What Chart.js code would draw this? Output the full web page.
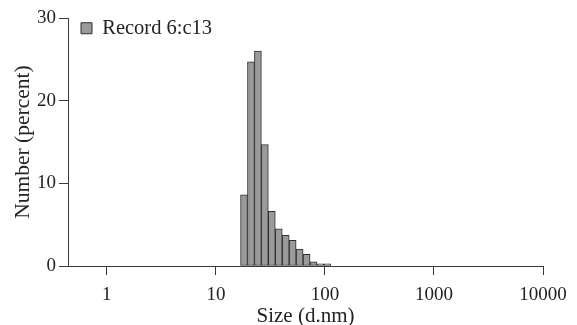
<!DOCTYPE html>
<html>
<head>
<meta charset="utf-8">
<script src="https://cdn.jsdelivr.net/npm/chart.js@4"></script>
<style>
  body { margin: 0; background: #fff; }
  #wrap { width: 577px; height: 325px; }
</style>
</head>
<body>
<div id="wrap"><canvas id="sizeChart" width="577" height="325"></canvas></div>
<script>
// size classes (d.nm, bin centres) and number %
const sizes = [18.10, 20.96, 24.28, 28.11, 32.56, 37.71, 43.67, 50.58, 58.59, 67.85, 78.58, 91.00, 105.4];
const numberPct = [8.6, 24.7, 26.0, 14.7, 6.6, 4.5, 3.7, 3.1, 2.05, 1.4, 0.5, 0.25, 0.25];
const xTicks = [1, 10, 100, 1000, 10000];
const yTicks = [0, 10, 20, 30];
const seriesName = 'Record 6:c13';

const serif = 'Liberation Serif';
const ink = '#222';
const axisColor = '#3a3a3a';

// nudge the in-plot legend down a little
const legendShift = {
  id: 'legendShift',
  afterLayout(chart) {
    if (chart.legend) {
      chart.legend.top += 5;
      chart.legend.bottom += 5;
    }
  }
};

const ctx = document.getElementById('sizeChart').getContext('2d');

new Chart(ctx, {
  type: 'bar',
  data: {
    datasets: [{
      label: seriesName,
      data: sizes.map((s, i) => ({ x: s, y: numberPct[i] })),
      backgroundColor: '#9a9a9a',
      borderColor: '#2e2e2e',
      borderWidth: 1,
      borderSkipped: false,
      barPercentage: 1,
      categoryPercentage: 1
    }]
  },
  options: {
    responsive: false,
    animation: false,
    layout: { padding: { left: 0, right: 34, top: 18, bottom: 0 } },
    plugins: {
      tooltip: { enabled: false },
      legend: {
        position: 'chartArea',
        align: 'start',
        labels: {
          boxWidth: 11,
          boxHeight: 11,
          padding: 13,
          color: ink,
          font: { family: serif, size: 20.5 }
        }
      }
    },
    scales: {
      x: {
        type: 'logarithmic',
        offset: false,
        min: 0.44,
        max: 10000,
        afterBuildTicks: function(scale) {
          scale.ticks = xTicks.map(v => ({ value: v }));
        },
        afterFit: function(scale) { scale.height = 59; },
        grid: { offset: false, drawOnChartArea: false, drawTicks: true, tickLength: 9, color: axisColor },
        border: { color: axisColor },
        ticks: {
          color: ink,
          padding: 9,
          maxRotation: 0,
          autoSkip: false,
          font: { family: serif, size: 19 },
          callback: function(v) { return String(v); }
        },
        title: {
          display: true,
          text: 'Size (d.nm)',
          color: ink,
          padding: { top: 0, bottom: -4 },
          font: { family: serif, size: 21 }
        }
      },
      y: {
        min: 0,
        max: 30,
        afterBuildTicks: function(scale) {
          scale.ticks = yTicks.map(v => ({ value: v }));
        },
        afterFit: function(scale) { scale.width = 68; },
        grid: { drawOnChartArea: false, drawTicks: true, tickLength: 9, color: axisColor },
        border: { color: axisColor },
        ticks: {
          color: ink,
          padding: 3,
          font: { family: serif, size: 19 }
        },
        title: {
          display: true,
          text: 'Number (percent)',
          color: ink,
          padding: { top: 10, bottom: 0 },
          font: { family: serif, size: 21.5 }
        }
      }
    }
  },
  plugins: [legendShift]
});
</script>
</body>
</html>
